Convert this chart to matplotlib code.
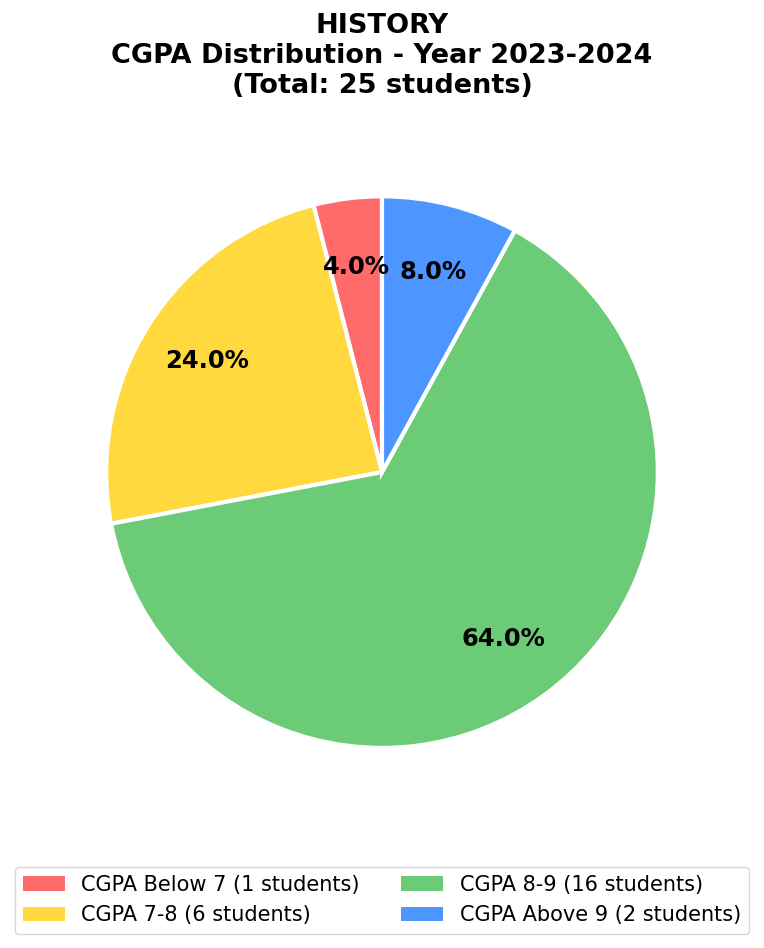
import matplotlib.pyplot as plt
from matplotlib.patches import Patch

# data
labels = ['CGPA Below 7', 'CGPA 7-8', 'CGPA 8-9', 'CGPA Above 9']
counts = [1, 6, 16, 2]
colors = ['#ff6b6b', '#ffd93d', '#6bcb77', '#4d96ff']
subject = 'HISTORY'
year = '2023-2024'

total = sum(counts)
legend_labels = [f'{l} ({c} students)' for l, c in zip(labels, counts)]

fig = plt.figure(figsize=(7.64, 9.48), dpi=100)
ax = fig.add_axes([0.139, 0.211, 0.722, 0.582])

wedges, texts, autotexts = ax.pie(
    counts, colors=colors, autopct='%1.1f%%', startangle=90,
    pctdistance=0.75,
    wedgeprops={'edgecolor': 'white', 'linewidth': 3},
    textprops={'fontsize': 17.5, 'fontweight': 'bold'})
ax.set_aspect('equal')
ax.set_xlim(-1, 1)
ax.set_ylim(-1, 1)
for w in wedges:
    w.set_clip_on(False)

fig.suptitle(f'{subject}\nCGPA Distribution - Year {year}\n(Total: {total} students)',
             fontsize=19.5, fontweight='bold', y=0.986, va='top')

handles = [Patch(facecolor=c) for c in colors]
fig.legend(handles, legend_labels, loc='lower center', ncol=2,
           bbox_to_anchor=(0.5, 0.004), fontsize=15)

fig.savefig('out.png', dpi=100)
